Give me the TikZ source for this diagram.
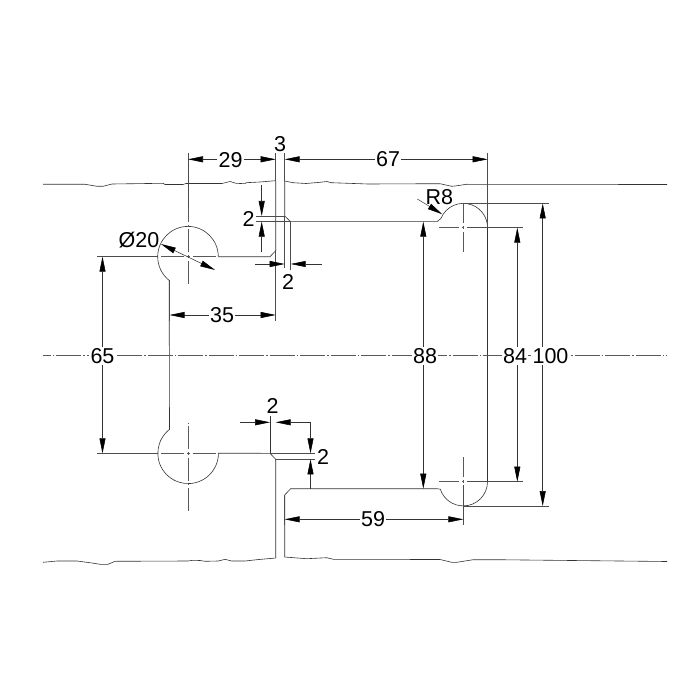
\documentclass[tikz,border=0pt]{standalone}
\usepackage{fontspec}
\setmainfont{Liberation Sans}
\usetikzlibrary{arrows.meta}
\tikzset{
	outline/.style={draw=black!80,line width=0.6pt},
	extline/.style={draw=black!70,line width=0.55pt},
	axisline/.style={draw=black!65,line width=0.55pt,dash pattern=on 1.5pt off 3pt on 23pt off 3pt},
	midline/.style={draw=black!65,line width=0.55pt,dash pattern=on 25pt off 2pt on 1.5pt off 2pt,dash phase=17.25pt},
	dimboth/.style={draw=black!80,line width=0.55pt,{Triangle[length=15pt,width=6pt,black]}-{Triangle[length=15pt,width=6pt,black]}},
	dimone/.style={draw=black!80,line width=0.55pt,-{Triangle[length=15pt,width=6pt,black]}},
	dimtext/.style={fill=white,inner sep=1.5pt,font=\fontsize{21.5}{21.5}\selectfont}
}
\begin{document}
\begin{tikzpicture}[x=1pt,y=-1pt]
	\useasboundingbox (0,0) rectangle (700,700);
	% Mittelpunkte
		\coordinate (holeA) at (188,256.7);
		\coordinate (holeB) at (188,453.3);
		\coordinate (slotA) at (463.3,227.7);
		\coordinate (slotB) at (463.3,481.7);
	% Kontur
		\draw[outline] (43,184.3) -- (85,184.3) -- (97,186.3) -- (103,186.3) -- (112,184) -- (163,183.3) -- (165,184.5) -- (183,184.5) -- (186,183.5) -- (222,183.5) -- (230,181.5) -- (236,183.3) -- (245,183.7) -- (246,182.7) -- (260,182) -- (275.7,180.7);
		\draw[outline] (284.7,181) -- (293,182.7) -- (306,183.5) -- (320,182.3) -- (327,181.5) -- (331,182.7) -- (368,184) -- (440,183.7) -- (451.7,186.3) -- (455,186) -- (466.7,184.3) -- (667,184.5);
		\draw[outline] (43,562.3) -- (57,561) -- (77,561) -- (92,563) -- (100,564.3) -- (108,564.3) -- (115,561.3) -- (188,561) -- (193,560.3) -- (200,560.5) -- (205,561.3) -- (218.3,561) -- (225,559.3) -- (231.7,561) -- (245,561) -- (256.7,559.7) -- (275.7,558);
		\draw[outline] (284.7,557) -- (306.7,558.7) -- (326.7,557.7) -- (333.3,559.3) -- (440,559.5) -- (451.7,562.3) -- (456.7,562.3) -- (473.3,559.7) -- (496.7,559.7) -- (667,561.5);
		\draw[outline] (218.3,256.7) arc[start angle=0,end angle=-231.5,radius=30.3] -- (169.5,429.4) arc[start angle=232,end angle=0,radius=30.3] -- (270,453.3) -- (275.7,459.3) -- (275.7,558);
		\draw[outline] (218.3,256.7) -- (270,256.7) -- (275.7,250.7) -- (275.7,181);
		\draw[outline] (284.7,181) -- (284.7,216) -- (290.7,221.7) -- (437,221.7) -- (440.9,218.5) arc[start angle=202,end angle=360,radius=24.2] -- (487.5,481.7) arc[start angle=0,end angle=162,radius=24.2] -- (437,488.7) -- (290.7,488.7) -- (284.7,495) -- (284.7,557);
		\draw[outline] (270,416) -- (270,453.3);
	% Mittellinien
		\draw[midline] (43,355.3) -- (667,355.3);
		\draw[axisline] (holeA) -- (188,208);
		\draw[axisline] (holeA) -- (188,286.7);
		\draw[axisline] (holeA) -- (158,256.7);
		\draw[axisline] (holeA) -- (218.3,256.7);
		\draw[axisline] (holeB) -- (188,422.7);
		\draw[axisline] (holeB) -- (188,513.3);
		\draw[axisline] (holeB) -- (158,453.3);
		\draw[axisline] (holeB) -- (218.3,453.3);
		\draw[axisline] (slotA) -- (439.3,227.7);
		\draw[axisline] (slotA) -- (463.3,251.7);
		\draw[axisline] (slotA) -- (463.3,203.5);
		\draw[axisline] (slotB) -- (439.3,481.7);
		\draw[axisline] (slotB) -- (463.3,457.3);
		\draw[axisline] (slotB) -- (463.3,506);
	% Hilfslinien
		\draw[extline] (188,153) -- (188,208);
		\draw[extline] (275.7,153) -- (275.7,181);
		\draw[extline] (284.7,153) -- (284.7,181);
		\draw[extline] (487.7,153) -- (487.7,227.7);
		\draw[extline] (275.7,250.7) -- (275.7,320.7);
		\draw[extline] (169.5,280) -- (169.5,320.7);
		\draw[extline] (97,256.7) -- (158,256.7);
		\draw[extline] (97,453.3) -- (158,453.3);
		\draw[extline] (255,216) -- (284.7,216);
		\draw[extline] (255,221.7) -- (290.7,221.7);
		\draw[extline] (284.7,216) -- (284.7,268);
		\draw[extline] (290.7,221.7) -- (290.7,270);
		\draw[extline] (270,453.3) -- (315,453.3);
		\draw[extline] (275.7,459.3) -- (315,459.3);
		\draw[extline] (467.3,227.7) -- (523.3,227.7);
		\draw[extline] (467.3,481.7) -- (523.3,481.7);
		\draw[extline] (463.3,203.5) -- (549,203.5);
		\draw[extline] (463.3,506) -- (549,506);
		\draw[extline] (463.3,485) -- (463.3,525);
		\draw[extline] (284.7,495) -- (284.7,525);
	% Bemassung
		\draw[dimboth] (188,159.3) -- (275.7,159.3);
		\draw[dimboth] (284.7,159.3) -- (487.7,159.3);
		\draw[dimboth] (169.5,315) -- (275.7,315);
		\draw[dimboth] (102.5,256.7) -- (102.5,453.3);
		\draw[dimboth] (423.3,221.7) -- (423.3,488.7);
		\draw[dimboth] (517.3,227.7) -- (517.3,481.7);
		\draw[dimboth] (542.7,203.5) -- (542.7,506);
		\draw[dimboth] (284.7,519.3) -- (463.3,519.3);
		\draw[dimone] (261.7,185) -- (261.7,216);
		\draw[dimone] (261.7,251.7) -- (261.7,221.7);
		\draw[dimone] (255,264) -- (284.7,264);
		\draw[dimone] (321.7,264) -- (290.7,264);
		\draw[dimone] (240,422.3) -- (270,422.3);
		\draw[dimone] (310.5,422.3) -- (275.7,422.3);
		\draw[dimone] (310.5,422.3) -- (310.5,453.3);
		\draw[dimone] (310.5,488.7) -- (310.5,459.3);
		\draw[dimboth] (161,244) -- (215,270);
		\draw[extline] (417.3,199) -- (428,205.5);
		\draw[dimone] (428,205.5) -- (442.3,214.3);
	% Beschriftung
		\node[dimtext] (d29) at (230.7,160) {29};
		\node[dimtext] (d3) at (280,144) {3};
		\node[dimtext] (d67) at (388,159.5) {67};
		\node[dimtext] (d35) at (222,315.5) {35};
		\node[dimtext] (d65) at (102.5,356) {65};
		\node[dimtext] (d88) at (425,356) {88};
		\node[dimtext] (d84) at (515,356) {84};
		\node[dimtext] (d100) at (550.5,356) {100};
		\node[dimtext] (d59) at (373,519.5) {59};
		\node[dimtext] (top2a) at (248.7,219) {2};
		\node[dimtext] (top2b) at (288,281.5) {2};
		\node[dimtext] (low2a) at (272.7,406) {2};
		\node[dimtext] (low2b) at (323,456.5) {2};
		\node[dimtext,fill=none] (dia) at (139,240) {Ø20};
		\node[dimtext,fill=none] (r8) at (439.3,197) {R8};
\end{tikzpicture}
\end{document}
